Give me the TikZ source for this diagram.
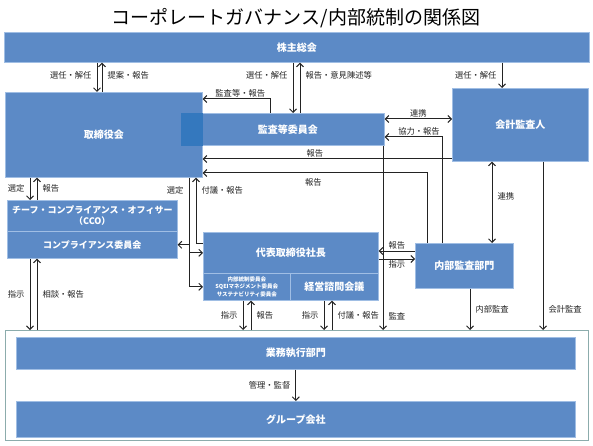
\documentclass[tikz,border=0pt]{standalone}
\usepackage{fontspec}
\setmainfont{Noto Sans CJK JP}
\usetikzlibrary{arrows.meta}
\definecolor{boxblue}{RGB}{92,138,198}
\definecolor{boxdark}{RGB}{52,120,190}
\definecolor{boxedge}{RGB}{160,190,228}
\definecolor{framegray}{RGB}{140,172,172}
\definecolor{linegray}{RGB}{35,35,35}
\begin{document}
\begin{tikzpicture}[x=1pt,y=-1pt,
  box/.style={draw=boxedge,line width=0.6pt,fill=boxblue,text=white,anchor=north west,
    inner sep=0pt,align=center,font=\fontsize{10}{12}\selectfont\bfseries},
  lbl/.style={font=\fontsize{8.3}{10}\selectfont,text=linegray,inner xsep=5pt,inner ysep=1.5pt},
  conn/.style={linegray,line width=1pt,-{Straight Barb[length=3.5pt,width=7pt]}},
  both/.style={linegray,line width=1pt,{Straight Barb[length=3.5pt,width=7pt]}-{Straight Barb[length=3.5pt,width=7pt]}}]
\useasboundingbox (0,0) rectangle (593,446);

\node[font=\fontsize{19}{22}\selectfont] (title) at (296,18) {コーポレートガバナンス/内部統制の関係図};

% boxes
\node[box,minimum width=585pt,minimum height=30pt] (soukai) at (4,32) {株主総会};
\node[box,minimum width=197pt,minimum height=85pt] (tori) at (5,92) {取締役会};
\node[box,minimum width=203pt,minimum height=32pt] (kansa) at (181,113) {\hspace*{10pt}監査等委員会};
\fill[boxdark] (kansa.north west) rectangle (tori.east |- kansa.south);
\node[box,minimum width=136pt,minimum height=73pt] (kaikei) at (452,88) {会計監査人};
\node[box,minimum width=170pt,minimum height=31pt,font=\fontsize{9}{11}\selectfont\bfseries] (cco) at (7,200)
  {チーフ・コンプライアンス・オフィサー\\（CCO）};
\node[box,minimum width=170pt,minimum height=27pt,font=\fontsize{9}{11}\selectfont\bfseries] (comp) at (7,231) {コンプライアンス委員会};
\node[box,minimum width=175pt,minimum height=41pt] (shacho) at (203,232) {代表取締役社長};
\node[box,minimum width=87pt,minimum height=27pt,font=\fontsize{5.5}{7.5}\selectfont\bfseries] (naibu) at (203,273)
  {内部統制委員会\\SQEIマネジメント委員会\\サステナビリティ委員会};
\node[box,minimum width=88pt,minimum height=27pt] (keiei) at (290,273) {経営諮問会議};
\node[box,minimum width=98pt,minimum height=45pt] (naikan) at (415,243) {内部監査部門};
\node[draw=framegray,line width=1.2pt,minimum width=583pt,minimum height=110pt,anchor=north west,inner sep=0pt] (frame) at (5,330) {};
\node[box,minimum width=559pt,minimum height=32pt] (gyomu) at (16,337) {業務執行部門};
\node[box,minimum width=559pt,minimum height=36pt] (group) at (16,401) {グループ会社};

% shareholders meeting
\draw[conn] (97,0 |- soukai.south) -- node[lbl,left,pos=0.45]{選任・解任} (97,0 |- tori.north);
\draw[conn] (102,0 |- tori.north) -- node[lbl,right,pos=0.55]{提案・報告} (102,0 |- soukai.south);
\draw[conn] (293,0 |- soukai.south) -- node[lbl,left,pos=0.25]{選任・解任} (293,0 |- kansa.north);
\draw[conn] (300,0 |- kansa.north) -- node[lbl,right,pos=0.75]{報告・意見陳述等} (300,0 |- soukai.south);
\draw[conn] (502,0 |- soukai.south) -- node[lbl,left]{選任・解任} (502,0 |- kaikei.north);

% audit
\draw[conn] (270,0 |- kansa.north) |- node[lbl,above,pos=0.72]{監査等・報告} (tori.east |- 0,99);
\draw[both] (kansa.east |- 0,119) -- node[lbl,above]{連携} (kaikei.west |- 0,119);
\draw[conn] (442,0 |- naikan.north) |- node[lbl,above,pos=0.7]{協力・報告} (kansa.east |- 0,137);
\draw[conn] (kaikei.west |- 0,159) -- node[lbl,above,pos=0.55]{報告} (tori.east |- 0,159);
\draw[conn] (427,0 |- naikan.north) |- node[lbl,below,pos=0.753,yshift=-4pt]{報告} (tori.east |- 0,173);
\draw[both] (492,0 |- kaikei.south) -- node[lbl,right,pos=0.43]{連携} (492,0 |- naikan.north);
\draw[conn] (543,0 |- kaikei.south) -- node[lbl,right,pos=0.876]{会計監査} (543,0 |- frame.north);
\draw[conn] (383,0 |- kansa.south) -- node[lbl,right,pos=0.924]{監査} (383,0 |- frame.north);
\draw[conn] (470,0 |- naikan.south) -- node[lbl,right]{内部監査} (470,0 |- frame.north);

% board
\draw[conn] (30,0 |- tori.south) -- node[lbl,left]{選定} (30,0 |- cco.north);
\draw[conn] (37,0 |- cco.north) -- node[lbl,right]{報告} (37,0 |- tori.south);
\draw[conn] (189,0 |- tori.south) |- node[lbl,left,pos=0.06]{選定} (naibu.west);
\draw[conn] (189,0 |- comp.east) -- (comp.east);
\draw[conn] (189,0 |- shacho.west) -- (shacho.west);
\draw[conn] (shacho.west |- 0,243) -| node[lbl,right,pos=0.9]{付議・報告} (196,0 |- tori.south);

% president
\draw[conn] (naikan.west |- 0,251) -- node[lbl,above]{報告} (shacho.east |- 0,251);
\draw[conn] (shacho.east |- 0,259) -- node[lbl,below]{指示} (naikan.west |- 0,259);

% business units
\draw[conn] (30,0 |- comp.south) -- node[lbl,left]{指示} (30,0 |- frame.north);
\draw[conn] (37,0 |- frame.north) -- node[lbl,right]{相談・報告} (37,0 |- comp.south);
\draw[conn] (243,0 |- naibu.south) -- node[lbl,left]{指示} (243,0 |- frame.north);
\draw[conn] (251,0 |- frame.north) -- node[lbl,right]{報告} (251,0 |- naibu.south);
\draw[conn] (324,0 |- keiei.south) -- node[lbl,left]{指示} (324,0 |- frame.north);
\draw[conn] (332,0 |- frame.north) -- node[lbl,right]{付議・報告} (332,0 |- keiei.south);
\draw[conn] (gyomu.south) -- node[lbl,left]{管理・監督} (group.north);
\end{tikzpicture}
\end{document}
